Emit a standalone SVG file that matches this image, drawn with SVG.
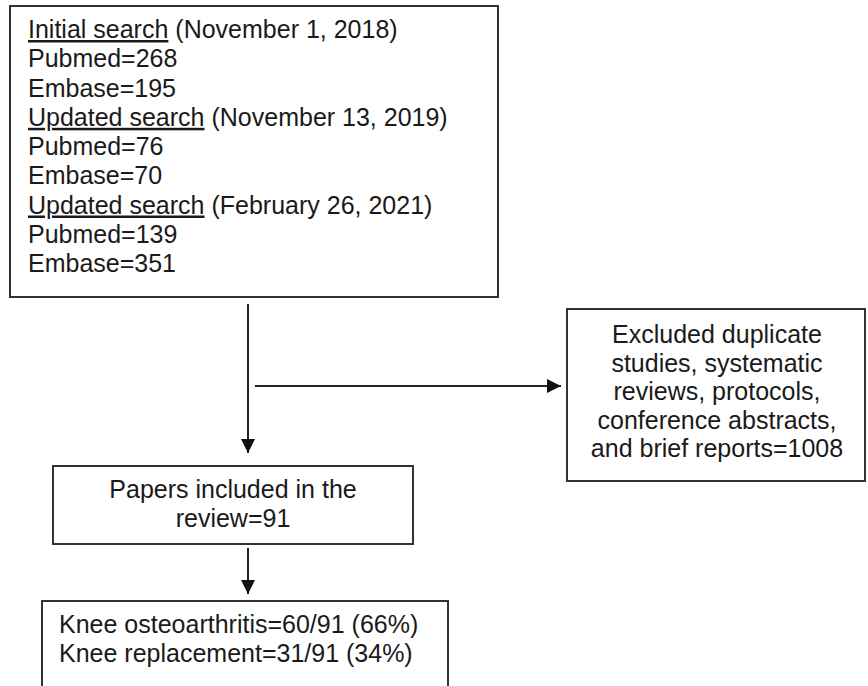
<svg xmlns="http://www.w3.org/2000/svg" width="868" height="686" viewBox="0 0 868 686">
  <style>
    .box { fill: #ffffff; stroke: #333333; stroke-width: 2; }
    .t { font-family: "Liberation Sans", Arial, sans-serif; font-size: 25px; fill: #1a1a1a; }
    .c { text-anchor: middle; }
    .u { text-decoration: underline; }
    .line { stroke: #222222; stroke-width: 2; fill: none; }
  </style>
  <defs>
    <marker id="arrow" viewBox="0 0 10 10" refX="10" refY="5" markerWidth="7" markerHeight="7" markerUnits="strokeWidth" orient="auto">
      <path d="M0,0 L10,5 L0,10 Z" fill="#111111"/>
    </marker>
  </defs>
  <rect width="868" height="686" fill="#ffffff"/>

  <g id="search">
    <rect class="box" x="10" y="6" width="488" height="291"/>
    <text class="t" x="28" y="38"><tspan class="u">Initial search</tspan> (November 1, 2018)</text>
    <text class="t" x="28" y="67.3">Pubmed=268</text>
    <text class="t" x="28" y="96.5">Embase=195</text>
    <text class="t" x="28" y="125.8"><tspan class="u">Updated search</tspan> (November 13, 2019)</text>
    <text class="t" x="28" y="155">Pubmed=76</text>
    <text class="t" x="28" y="184.3">Embase=70</text>
    <text class="t" x="28" y="213.5"><tspan class="u">Updated search</tspan> (February 26, 2021)</text>
    <text class="t" x="28" y="242.8">Pubmed=139</text>
    <text class="t" x="28" y="272">Embase=351</text>
  </g>

  <g id="excluded">
    <rect class="box" x="567" y="309" width="298" height="172"/>
    <text class="t c" x="717" y="343">Excluded duplicate</text>
    <text class="t c" x="717" y="371.5">studies, systematic</text>
    <text class="t c" x="717" y="400">reviews, protocols,</text>
    <text class="t c" x="717" y="428.5">conference abstracts,</text>
    <text class="t c" x="717" y="457">and brief reports=1008</text>
  </g>

  <g id="included">
    <rect class="box" x="53" y="466" width="360" height="78"/>
    <text class="t c" x="233" y="498">Papers included in the</text>
    <text class="t c" x="233" y="527">review=91</text>
  </g>

  <g id="split">
    <rect class="box" x="42" y="601" width="406" height="95"/>
    <text class="t" x="59" y="633">Knee osteoarthritis=60/91 (66%)</text>
    <text class="t" x="59" y="662">Knee replacement=31/91 (34%)</text>
  </g>

  <g id="connectors">
    <line class="line" x1="248" y1="304" x2="248" y2="453" marker-end="url(#arrow)"/>
    <line class="line" x1="255" y1="386" x2="561" y2="386" marker-end="url(#arrow)"/>
    <line class="line" x1="248" y1="548" x2="248" y2="594" marker-end="url(#arrow)"/>
  </g>
</svg>
